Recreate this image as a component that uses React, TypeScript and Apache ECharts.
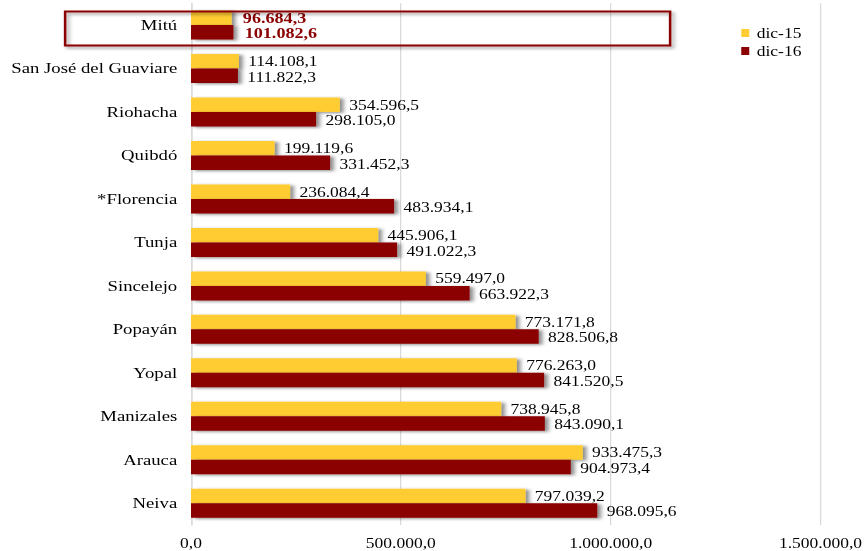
import React, { useEffect, useRef } from "react";
import * as echarts from "echarts";

const categories = [
  "Mitú",
  "San José del Guaviare",
  "Riohacha",
  "Quibdó",
  "*Florencia",
  "Tunja",
  "Sincelejo",
  "Popayán",
  "Yopal",
  "Manizales",
  "Arauca",
  "Neiva",
];
const dic15 = [96684.3, 114108.1, 354596.5, 199119.6, 236084.4, 445906.1, 559497.0, 773171.8, 776263.0, 738945.8, 933475.3, 797039.2];
const dic16 = [101082.6, 111822.3, 298105.0, 331452.3, 483934.1, 491022.3, 663922.3, 828506.8, 841520.5, 843090.1, 904973.4, 968095.6];
const seriesNames = ["dic-15", "dic-16"];
const highlighted = "Mitú";

const SX = 1.25;
const W = 867 / SX;
const FONT = "'Liberation Serif', 'Times New Roman', serif";

function fmt(v: number): string {
  const [i, d] = v.toFixed(1).split(".");
  return i.replace(/\B(?=(\d{3})+(?!\d))/g, ".") + "," + d;
}

export default function App() {
  const ref = useRef<HTMLDivElement>(null);
  useEffect(() => {
    if (!ref.current) return;
    const chart = echarts.init(ref.current, null, { renderer: "svg" });
    const mk = (vals: number[]) =>
      vals.map((v, idx) =>
        categories[idx] === highlighted
          ? { value: v, label: { color: "#8B0000", fontWeight: "bold", fontSize: 14.5, distance: 9 } }
          : { value: v }
      );
    const barStyle = (color: string) => ({
      color,
      shadowColor: "rgba(0,0,0,0.45)",
      shadowBlur: 3,
      shadowOffsetX: 3,
      shadowOffsetY: 1,
    });
    chart.setOption({
      animation: false,
      grid: { left: 191 / SX, right: W - 820 / SX, top: 3.3, bottom: 26 },
      legend: {
        data: seriesNames,
        orient: "vertical",
        left: 735 / SX,
        top: 21,
        icon: "rect",
        itemWidth: 8 / SX,
        itemHeight: 8,
        itemGap: 4,
        textStyle: { fontFamily: FONT, fontSize: 14, color: "#000", padding: [0, 0, 0, 1] },
      },
      xAxis: {
        type: "value",
        min: 0,
        max: 1500000,
        interval: 500000,
        axisLine: { show: false },
        axisTick: { show: false },
        splitLine: { lineStyle: { color: "#d9d9d9", width: 1 } },
        axisLabel: { fontFamily: FONT, fontSize: 14, color: "#000", margin: 11, formatter: (v: number) => fmt(v) },
      },
      yAxis: {
        type: "category",
        data: categories,
        inverse: true,
        axisLine: { show: true, lineStyle: { color: "#d9d9d9" } },
        axisTick: { show: false },
        axisLabel: { fontFamily: FONT, fontSize: 15, color: "#000", margin: 11 },
      },
      series: [
        {
          name: seriesNames[0],
          type: "bar",
          data: mk(dic15),
          barWidth: 14.5,
          barGap: "0%",
          itemStyle: barStyle("#FFCC33"),
          label: {
            show: true,
            position: "right",
            distance: 7.5,
            fontFamily: FONT,
            fontSize: 14,
            color: "#000",
            formatter: (p: any) => fmt(p.value),
          },
        },
        {
          name: seriesNames[1],
          type: "bar",
          data: mk(dic16),
          barWidth: 14.5,
          barGap: "0%",
          itemStyle: barStyle("#8B0000"),
          label: {
            show: true,
            position: "right",
            distance: 7.5,
            offset: [0, 1],
            fontFamily: FONT,
            fontSize: 14,
            color: "#000",
            formatter: (p: any) => fmt(p.value),
          },
        },
      ],
      graphic: [
        {
          type: "rect",
          left: 62 / SX,
          top: 9,
          shape: { width: 605 / SX, height: 34 },
          style: {
            fill: "none",
            stroke: "#8B0000",
            lineWidth: 2,
            shadowColor: "rgba(0,0,0,0.4)",
            shadowBlur: 3,
            shadowOffsetX: 2,
            shadowOffsetY: 2,
          },
          z: 100,
        },
      ],
    });
    return () => chart.dispose();
  }, []);
  return (
    <div
      ref={ref}
      style={{
        position: "fixed",
        left: 0,
        top: 0,
        width: W,
        height: 551,
        transform: `scaleX(${SX})`,
        transformOrigin: "0 0",
        background: "#fff",
      }}
    />
  );
}
